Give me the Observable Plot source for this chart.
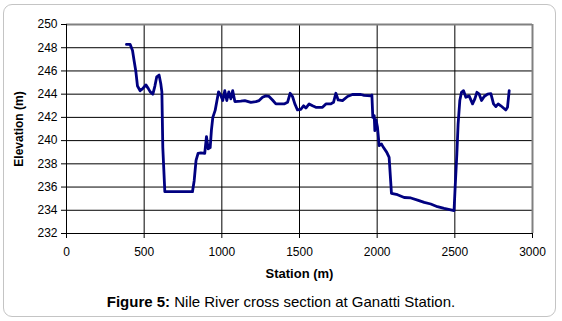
<!DOCTYPE html>
<html><head><meta charset="utf-8">
<script src="https://cdn.jsdelivr.net/npm/d3@7"></script>
<script src="https://cdn.jsdelivr.net/npm/@observablehq/plot@0.6"></script>
<style>
body{margin:0;background:#fff;font-family:"Liberation Sans",Arial,sans-serif;}
#wrap{position:relative;width:562px;height:321px;overflow:hidden;}
#frame{position:absolute;left:3px;top:4px;width:553px;height:313px;border:1.5px solid #c4c4c4;border-radius:9px;box-sizing:border-box;}
#chart{position:absolute;left:0;top:0;}
#caption{position:absolute;left:0;top:290px;width:562px;text-align:center;line-height:24px;font-size:15px;color:#000;}
#chart svg [aria-label="y-axis label"] text{font-weight:bold;font-size:12px;}
#chart svg [aria-label="x-axis label"] text{font-weight:bold;font-size:13px;}
</style></head>
<body><div id="wrap"><div id="frame"></div><div id="chart"></div><div id="caption"><b>Figure 5:</b> Nile River cross section at Ganatti Station.</div></div>
<script>
const station = [386,410,425,435,446,457,474,489,511,526,539,556,569,581,596,607,614,620,633,811,822,834,847,865,890,901,912,925,933,942,957,979,993,1006,1019,1032,1045,1058,1070,1084,1122,1148,1187,1219,1240,1262,1283,1304,1326,1348,1401,1423,1440,1455,1470,1487,1508,1526,1541,1562,1584,1605,1648,1670,1702,1719,1734,1749,1777,1809,1841,1895,1916,1959,1966,1972,1981,1985,1993,2002,2013,2028,2041,2062,2077,2092,2131,2174,2217,2260,2303,2345,2388,2431,2474,2495,2502,2513,2521,2532,2543,2556,2571,2592,2614,2629,2642,2657,2672,2689,2711,2732,2749,2764,2779,2796,2828,2839,2850];
const elevation = [248.28,248.28,247.76,246.9,246.0,244.7,244.3,244.45,244.8,244.5,244.2,244.0,244.7,245.5,245.65,244.9,244.2,239.4,235.6,235.6,236.55,238.3,238.9,238.95,238.9,240.35,239.3,239.4,240.9,242.0,242.6,244.2,243.9,243.45,244.3,243.45,244.2,243.6,244.3,243.36,243.4,243.45,243.3,243.36,243.45,243.73,243.85,243.8,243.5,243.16,243.16,243.3,244.08,243.8,243.16,242.64,242.7,243.0,242.8,243.16,243.0,242.87,242.87,243.16,243.16,243.3,244.08,243.5,243.45,243.8,243.97,243.97,243.9,243.85,243.93,242.0,242.15,240.86,241.78,241.15,239.57,239.7,239.4,238.99,238.56,235.46,235.34,235.1,235.06,234.88,234.68,234.54,234.31,234.16,234.03,233.97,235.97,238.85,241.4,243.45,244.16,244.3,243.73,243.85,243.16,243.6,244.16,244.0,243.45,243.8,244.0,244.05,243.16,242.93,243.16,243.0,242.64,242.87,244.3];
const xTicks = [0,500,1000,1500,2000,2500,3000];
const yTicks = [232,234,236,238,240,242,244,246,248,250];
const data = station.map((s,i)=>({station:s, elevation:elevation[i]}));
const chart = Plot.plot({
  width:562, height:290,
  marginLeft:66, marginRight:30, marginTop:24, marginBottom:57,
  x:{domain:[0,3000]}, y:{domain:[232,250]},
  style:{fontFamily:"'Liberation Sans', Arial, sans-serif", fontSize:"12px", color:"#000", background:"transparent"},
  marks:[
    Plot.gridY(yTicks.slice(1,-1),{stroke:"#000",strokeOpacity:1}),
    Plot.gridX(xTicks.slice(1,-1),{stroke:"#000",strokeOpacity:1}),
    Plot.ruleY([250],{stroke:"#808080",strokeWidth:2}),
    Plot.ruleX([3000],{stroke:"#808080",strokeWidth:2}),
    Plot.ruleY([232],{stroke:"#000"}),
    Plot.ruleX([0],{stroke:"#000"}),
    Plot.axisY(yTicks,{tickSize:5,tickPadding:4,label:"Elevation (m)",labelAnchor:"center",labelOffset:52,labelArrow:"none",tickFormat:d=>String(d)}),
    Plot.axisX(xTicks,{tickSize:5,tickPadding:9,label:"Station (m)",labelAnchor:"center",labelOffset:44,labelArrow:"none",tickFormat:d=>String(d)}),
    Plot.line(data,{x:"station",y:"elevation",stroke:"#000080",strokeWidth:2.8,strokeLinejoin:"round"})
  ]
});
document.getElementById("chart").appendChild(chart);
</script></body></html>
